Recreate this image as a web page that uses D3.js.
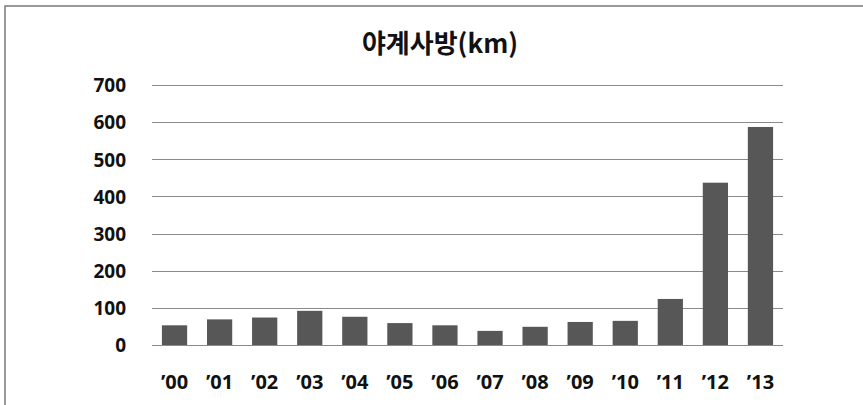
<!DOCTYPE html>
<html>
<head>
<meta charset="utf-8">
<script src="https://cdn.jsdelivr.net/npm/d3@7"></script>
<style>
  html, body { margin: 0; padding: 0; background: #fff; }
  svg { display: block; }
</style>
</head>
<body>
<svg id="chart" width="863" height="405"></svg>
<script>
const title = "야계사방(km)";
const categories = ["’00","’01","’02","’03","’04","’05","’06","’07","’08","’09","’10","’11","’12","’13"];
const values = [53, 69, 74, 92, 76, 59, 53, 38, 49, 62, 65, 124, 437, 587];
const yTicks = [0, 100, 200, 300, 400, 500, 600, 700];

const svg = d3.select("#chart");
const W = 863, H = 405;
const margin = { left: 152, right: 80, top: 85, bottom: 60 };
const x0 = 152, x1 = 783, yTop = 85, yBot = 345;

// outer frame (top and left edges visible)
svg.append("rect")
  .attr("x", 5).attr("y", 6)
  .attr("width", W + 20).attr("height", H + 20)
  .attr("fill", "#fff")
  .attr("stroke", "#7a7a7a").attr("stroke-width", 1.5);

const x = d3.scaleBand().domain(categories).range([x0, x1]).paddingInner(0.44).paddingOuter(0.22);
const y = d3.scaleLinear().domain([0, 700]).range([yBot, yTop]);

// gridlines
svg.append("g")
  .selectAll("line").data(yTicks.filter(d => d > 0)).join("line")
  .attr("x1", x0).attr("x2", x1)
  .attr("y1", d => Math.round(y(d)) + 0.5).attr("y2", d => Math.round(y(d)) + 0.5)
  .attr("stroke", "#8a8a8a").attr("stroke-width", 1);

// bars
svg.append("g")
  .selectAll("rect").data(values).join("rect")
  .attr("x", (d, i) => x(categories[i]))
  .attr("width", x.bandwidth())
  .attr("y", d => y(d))
  .attr("height", d => y(0) - y(d))
  .attr("fill", "#575757");

// y axis
const yAxis = d3.axisLeft(y).tickValues(yTicks).tickSize(0).tickPadding(0);
const gy = svg.append("g").attr("transform", `translate(126,0)`).call(yAxis);
gy.select(".domain").remove();
gy.selectAll("text")
  .attr("font-family", "'Open Sans', 'Noto Sans', sans-serif")
  .attr("font-weight", "bold")
  .attr("font-size", 19)
  .attr("fill", "#111")
  .attr("dy", "0.36em");

// x axis
const xAxis = d3.axisBottom(x).tickSize(0).tickPadding(0);
const gx = svg.append("g").attr("transform", `translate(0,${yBot})`).call(xAxis);
gx.select(".domain")
  .attr("d", `M${x0},0.5H${x1}`)
  .attr("stroke", "#8a8a8a").attr("stroke-width", 1);
gx.selectAll("text")
  .attr("font-family", "'Open Sans', 'Noto Sans', sans-serif")
  .attr("font-weight", "bold")
  .attr("font-size", 20)
  .attr("fill", "#111")
  .attr("y", 44).attr("dy", 0);

// title
svg.append("text")
  .attr("x", 440).attr("y", 53)
  .attr("text-anchor", "middle")
  .attr("font-family", "'Noto Sans CJK KR', sans-serif")
  .attr("font-weight", "bold")
  .attr("font-size", 26)
  .attr("fill", "#111")
  .text(title);
</script>
</body>
</html>
